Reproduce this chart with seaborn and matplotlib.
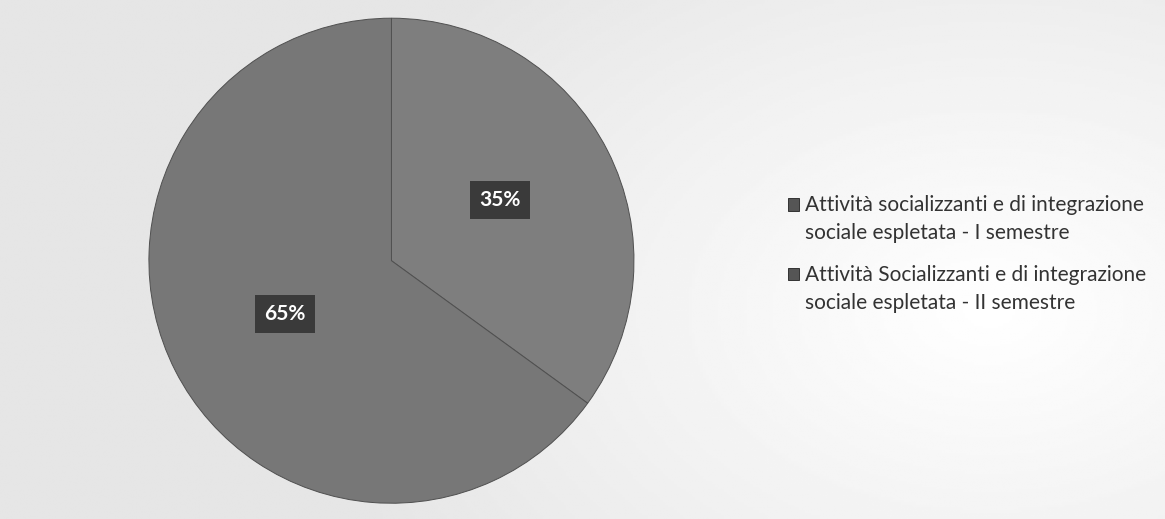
import numpy as np
import matplotlib
matplotlib.use("Agg")
import matplotlib.pyplot as plt
from matplotlib.patches import Rectangle
from matplotlib.legend_handler import HandlerPatch
import seaborn as sns

categories = [
    "Attività socializzanti e di integrazione\nsociale espletata - I semestre",
    "Attività Socializzanti e di integrazione\nsociale espletata - II semestre",
]
values = [35, 65]
labels = ["35%", "65%"]

sns.set_theme(style="white")
plt.rcParams['font.family'] = ['Lato', 'DejaVu Sans']

fig = plt.figure(figsize=(11.65, 5.19), dpi=100)

# background gradient (light gray with white glow at right)
bg = fig.add_axes([0, 0, 1, 1])
yy, xx = np.mgrid[0:1:200j, 0:1:400j]
d = np.sqrt(((xx - 0.85) / 0.6) ** 2 + ((yy - 0.6) / 0.9) ** 2)
img = 0.90 + 0.10 * np.clip(1 - d, 0, 1)
bg.imshow(img, cmap="gray", vmin=0, vmax=1, aspect="auto", extent=[0, 1, 0, 1])
bg.axis("off")

ax = fig.add_axes([0.0, 0.0, 0.672, 1.0])
ax.set_facecolor("none")
colors = ["#7e7e7e", "#777777"]
wedges, _ = ax.pie(values, colors=colors, startangle=90, counterclock=False,
                   radius=1.0,
                   wedgeprops=dict(edgecolor="#505050", linewidth=0.7))
ax.set_aspect("equal")
ax.set_xlim(-1.61, 1.61)
ax.set_ylim(-1.065, 1.075)

label_pos = [(0.446, 0.25), (-0.44, -0.22)]
for (x, y), t in zip(label_pos, labels):
    ax.text(x, y, t, ha="center", va="center", color="white", fontsize=15,
            fontweight="bold",
            bbox=dict(boxstyle="square,pad=0.45", facecolor="#3a3a3a", edgecolor="none"))


def top_square(legend, orig_handle, xdescent, ydescent, width, height, fontsize):
    # small square aligned with the first line of the two-line label
    return Rectangle((-xdescent, -ydescent + 11.0), width, height)


leg = fig.legend(wedges, categories, loc="center left",
                 bbox_to_anchor=(0.660, 0.511), frameon=False, fontsize=15,
                 handlelength=0.55, handleheight=0.55, handletextpad=0.3,
                 labelspacing=1.04, labelcolor="#333333",
                 handler_map={w: HandlerPatch(patch_func=top_square) for w in wedges})
for t in leg.get_texts():
    t.set_linespacing(1.5)
for h in leg.legend_handles:
    h.set_facecolor("#555555")
    h.set_edgecolor("#333333")

fig.savefig("out.png", dpi=100)
